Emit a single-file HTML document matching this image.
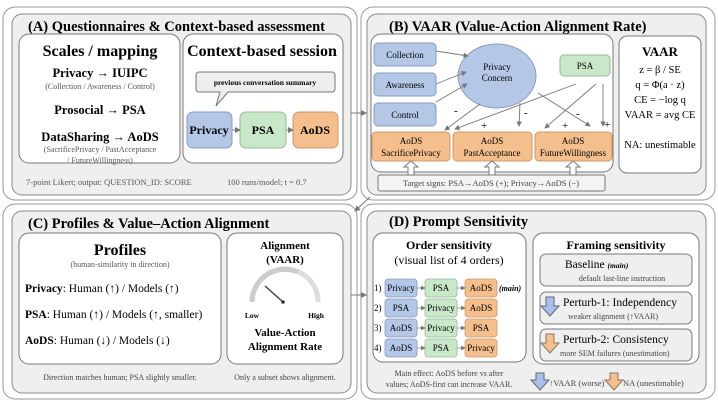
<!DOCTYPE html>
<html><head><meta charset="utf-8"><style>
html,body{margin:0;padding:0;background:#fff;}
svg{display:block;}
svg text, text, tspan{font-family:"Liberation Serif","Times New Roman","DejaVu Serif",serif;}
</style></head><body>
<svg width="718" height="404" viewBox="0 0 718 404" xmlns="http://www.w3.org/2000/svg" font-family="Liberation Serif, serif">
<defs>
<marker id="ah" markerWidth="6" markerHeight="6" refX="5" refY="3" orient="auto"><path d="M0,0 L6,3 L0,6 z" fill="#777"/></marker>
</defs>
<rect x="3" y="7" width="354" height="193" rx="12" fill="#fff" stroke="#999" stroke-width="1"/>
<rect x="361" y="7" width="354" height="193" rx="12" fill="#fff" stroke="#999" stroke-width="1"/>
<rect x="3" y="204" width="354" height="195" rx="12" fill="#fff" stroke="#999" stroke-width="1"/>
<rect x="361" y="204" width="354" height="195" rx="12" fill="#fff" stroke="#999" stroke-width="1"/>
<g fill="#efefef" stroke="#888" stroke-width="1">
<rect x="12" y="14" width="339" height="181" rx="10"/>
<rect x="367" y="14" width="339" height="181" rx="10"/>
<rect x="12" y="211" width="339" height="182" rx="10"/>
<rect x="367" y="211" width="339" height="182" rx="10"/>
</g>
<line x1="351" y1="113" x2="366" y2="113" stroke="#777" marker-end="url(#ah)"/>
<line x1="370" y1="197" x2="355" y2="211" stroke="#777" marker-end="url(#ah)"/>
<line x1="351" y1="295" x2="366" y2="295" stroke="#777" marker-end="url(#ah)"/>

<!-- A -->
<text x="28" y="31" font-size="14.5" font-weight="bold">(A) Questionnaires &amp; Context-based assessment</text>
<rect x="19" y="34" width="161" height="129" rx="10" fill="#fff" stroke="#777"/>
<rect x="183" y="34" width="160" height="129" rx="10" fill="#fff" stroke="#777"/>
<g text-anchor="middle">
<text x="100" y="56" font-size="16" font-weight="bold">Scales / mapping</text>
<text x="100" y="77" font-size="12.5" font-weight="bold">Privacy → IUIPC</text>
<text x="100" y="89" font-size="8" fill="#555">(Collection / Awareness / Control)</text>
<text x="100" y="114" font-size="12.5" font-weight="bold">Prosocial → PSA</text>
<text x="100" y="141" font-size="12.5" font-weight="bold">DataSharing → AoDS</text>
<text x="100" y="152" font-size="8" fill="#555">(SacrificePrivacy / PastAcceptance</text>
<text x="100" y="163" font-size="8" fill="#555">/ FutureWillingness)</text>
<text x="262" y="56" font-size="16" font-weight="bold">Context-based session</text>
</g>
<path d="M199,72 H332 a3,3 0 0 1 3,3 V89 a3,3 0 0 1 -3,3 H228 L216,106 L220,92 H199 a3,3 0 0 1 -3,-3 V75 a3,3 0 0 1 3,-3z" fill="#eee" stroke="#777"/>
<text x="265" y="85" font-size="7.5" font-weight="bold" text-anchor="middle">previous conversation summary</text>
<rect x="187" y="112" width="45" height="36" rx="6" fill="#b4c7e7" stroke="#8a9bbb"/>
<rect x="240" y="112" width="46" height="36" rx="6" fill="#c9e7c9" stroke="#98b898"/>
<rect x="293" y="112" width="45" height="36" rx="6" fill="#f4bf8c" stroke="#c99a6c"/>
<line x1="232" y1="130" x2="240" y2="130" stroke="#888" marker-end="url(#ah)"/>
<line x1="286" y1="130" x2="293" y2="130" stroke="#888" marker-end="url(#ah)"/>
<g text-anchor="middle" font-size="12" font-weight="bold">
<text x="209" y="134">Privacy</text><text x="263" y="134">PSA</text><text x="315" y="134">AoDS</text>
</g>
<text x="26" y="185" font-size="8.5" fill="#555">7-point Likert; output: QUESTION_ID: SCORE</text>
<text x="227" y="185" font-size="8.5" fill="#555">100 runs/model; t = 0.7</text>

<!-- B -->
<text x="389" y="31" font-size="14.5" font-weight="bold">(B) VAAR (Value-Action Alignment Rate)</text>
<rect x="371" y="34" width="242" height="138" rx="10" fill="#fff" stroke="#777"/>
<rect x="619" y="36" width="82" height="137" rx="8" fill="#fff" stroke="#777"/>
<g fill="#b4c7e7" stroke="#8a9bbb">
<rect x="374" y="43" width="62" height="23" rx="4"/>
<rect x="374" y="73" width="62" height="23" rx="4"/>
<rect x="374" y="103" width="62" height="23" rx="4"/>
<ellipse cx="497" cy="76" rx="39" ry="32"/>
</g>
<rect x="560" y="55" width="50" height="21" rx="4" fill="#c9e7c9" stroke="#98b898"/>
<g fill="#f4bf8c" stroke="#c99a6c">
<rect x="372" y="132" width="78" height="29" rx="4"/>
<rect x="453" y="132" width="79" height="29" rx="4"/>
<rect x="535" y="132" width="77" height="29" rx="4"/>
</g>
<g font-size="9" text-anchor="middle">
<text x="405" y="58">Collection</text><text x="405" y="88">Awareness</text><text x="405" y="118">Control</text>
<text x="497" y="70">Privacy</text><text x="497" y="81">Concern</text>
<text x="585" y="69">PSA</text>
<text x="411" y="144">AoDS</text><text x="411" y="156">SacrificePrivacy</text>
<text x="492" y="144">AoDS</text><text x="492" y="156">PastAcceptance</text>
<text x="573" y="144">AoDS</text><text x="573" y="156">FutureWillingness</text>
</g>
<g stroke="#777" stroke-width="0.9" marker-end="url(#ah)">
<line x1="436" y1="51" x2="468" y2="56"/>
<line x1="436" y1="84" x2="466" y2="72"/>
<line x1="436" y1="102" x2="467" y2="84"/>
<line x1="480" y1="104" x2="445" y2="130"/>
<line x1="520" y1="103" x2="519" y2="126"/>
<line x1="538" y1="93" x2="590" y2="126"/>
<line x1="576" y1="84" x2="455" y2="129"/>
<line x1="596" y1="84" x2="545" y2="128"/>
<line x1="603" y1="84" x2="603" y2="126"/>
</g>
<g font-size="11">
<text x="454" y="114">-</text><text x="524" y="116">-</text><text x="576" y="117">-</text>
<text x="481" y="129">+</text><text x="562" y="129">+</text><text x="604" y="128">+</text>
</g>
<g font-size="10.5" text-anchor="middle">
<text x="660" y="56" font-size="13" font-weight="bold">VAAR</text>
<text x="660" y="73">z = β / SE</text>
<text x="660" y="88">q = Φ(a · z)</text>
<text x="660" y="103">CE = −log q</text>
<text x="660" y="118">VAAR = avg CE</text>
<text x="660" y="148">NA: unestimable</text>
</g>
<g fill="#fff" stroke="#777">
<path d="M408,175 v-8 h-4 l7,-6 l7,6 h-4 v8z"/>
<path d="M489,175 v-8 h-4 l7,-6 l7,6 h-4 v8z"/>
<path d="M570,175 v-8 h-4 l7,-6 l7,6 h-4 v8z"/>
</g>
<rect x="378" y="175" width="227" height="16" rx="2" fill="#f4f4f4" stroke="#777"/>
<text x="491" y="186" font-size="8.5" text-anchor="middle" fill="#444">Target signs: PSA→AoDS (+); Privacy→AoDS (−)</text>

<!-- C -->
<text x="28" y="228" font-size="14.5" font-weight="bold">(C) Profiles &amp; Value–Action Alignment</text>
<rect x="19" y="233" width="202" height="131" rx="10" fill="#fff" stroke="#777"/>
<rect x="227" y="233" width="116" height="131" rx="10" fill="#fff" stroke="#777"/>
<text x="120" y="255" font-size="16" font-weight="bold" text-anchor="middle">Profiles</text>
<text x="120" y="267" font-size="8" fill="#555" text-anchor="middle">(human-similarity in direction)</text>
<g font-size="11.5">
<text x="25" y="292"><tspan font-weight="bold">Privacy</tspan>:  Human (↑) / Models (↑)</text>
<text x="25" y="318"><tspan font-weight="bold">PSA</tspan>: Human (↑) / Models (↑, smaller)</text>
<text x="25" y="344"><tspan font-weight="bold">AoDS</tspan>:     Human (↓) / Models (↓)</text>
</g>
<g text-anchor="middle" font-weight="bold">
<text x="285" y="249" font-size="11">Alignment</text>
<text x="285" y="263" font-size="11">(VAAR)</text>
<text x="285" y="336" font-size="11">Value-Action</text>
<text x="285" y="350" font-size="11">Alignment Rate</text>
</g>
<path d="M252,302 A33,33 0 0 1 318,302" fill="none" stroke="#ddd" stroke-width="5"/>
<path d="M252,302 A33,33 0 0 1 298,272" fill="none" stroke="#ccc" stroke-width="5"/>
<line x1="265" y1="286" x2="283" y2="302" stroke="#444" stroke-width="1.5"/>
<circle cx="283" cy="302" r="1.8" fill="#333"/>
<text x="252" y="318" font-size="7.5" font-weight="bold" text-anchor="middle">Low</text>
<text x="316" y="318" font-size="7.5" font-weight="bold" text-anchor="middle">High</text>
<text x="120" y="380" font-size="8" fill="#444" text-anchor="middle">Direction matches human; PSA slightly smaller.</text>
<text x="285" y="380" font-size="8" fill="#444" text-anchor="middle">Only a subset shows alignment.</text>

<!-- D -->
<text x="389" y="226" font-size="14.5" font-weight="bold">(D) Prompt Sensitivity</text>
<rect x="373" y="233" width="153" height="129" rx="10" fill="#fff" stroke="#777"/>
<rect x="533" y="233" width="166" height="131" rx="10" fill="#fff" stroke="#777"/>
<text x="449" y="249" font-size="12" font-weight="bold" text-anchor="middle">Order sensitivity</text>
<text x="449" y="264" font-size="12" text-anchor="middle">(visual list of 4 orders)</text>
<g font-size="9">
<text x="374" y="291">1)</text><text x="374" y="311">2)</text><text x="374" y="331">3)</text><text x="374" y="351">4)</text>
</g>
<g stroke-width="0.8">
<rect x="385" y="279" width="32" height="18" rx="3" fill="#b4c7e7" stroke="#8a9bbb"/>
<rect x="425" y="279" width="32" height="18" rx="3" fill="#c9e7c9" stroke="#98b898"/>
<rect x="465" y="279" width="32" height="18" rx="3" fill="#f4bf8c" stroke="#c99a6c"/>
<rect x="385" y="299" width="32" height="18" rx="3" fill="#b4c7e7" stroke="#8a9bbb"/>
<rect x="425" y="299" width="32" height="18" rx="3" fill="#c9e7c9" stroke="#98b898"/>
<rect x="465" y="299" width="32" height="18" rx="3" fill="#f4bf8c" stroke="#c99a6c"/>
<rect x="385" y="319" width="32" height="18" rx="3" fill="#b4c7e7" stroke="#8a9bbb"/>
<rect x="425" y="319" width="32" height="18" rx="3" fill="#c9e7c9" stroke="#98b898"/>
<rect x="465" y="319" width="32" height="18" rx="3" fill="#f4bf8c" stroke="#c99a6c"/>
<rect x="385" y="339" width="32" height="18" rx="3" fill="#b4c7e7" stroke="#8a9bbb"/>
<rect x="425" y="339" width="32" height="18" rx="3" fill="#c9e7c9" stroke="#98b898"/>
<rect x="465" y="339" width="32" height="18" rx="3" fill="#f4bf8c" stroke="#c99a6c"/>
</g>
<g stroke="#888" stroke-width="0.8" marker-end="url(#ah)">
<line x1="417" y1="288" x2="425" y2="288"/><line x1="457" y1="288" x2="465" y2="288"/>
<line x1="417" y1="308" x2="425" y2="308"/><line x1="457" y1="308" x2="465" y2="308"/>
<line x1="417" y1="328" x2="425" y2="328"/><line x1="457" y1="328" x2="465" y2="328"/>
<line x1="417" y1="348" x2="425" y2="348"/><line x1="457" y1="348" x2="465" y2="348"/>
</g>
<g font-size="9" text-anchor="middle">
<text x="401" y="291">Privacy</text><text x="441" y="291">PSA</text><text x="481" y="291">AoDS</text>
<text x="401" y="311">PSA</text><text x="441" y="311">Privacy</text><text x="481" y="311">AoDS</text>
<text x="401" y="331">AoDS</text><text x="441" y="331">Privacy</text><text x="481" y="331">PSA</text>
<text x="401" y="351">AoDS</text><text x="441" y="351">PSA</text><text x="481" y="351">Privacy</text>
</g>
<text x="499" y="291" font-size="8" font-weight="bold" font-style="italic">(main)</text>
<text x="616" y="249" font-size="12" font-weight="bold" text-anchor="middle">Framing sensitivity</text>
<rect x="540" y="254" width="152" height="32" rx="6" fill="#efefef" stroke="#777"/>
<rect x="540" y="292" width="152" height="32" rx="6" fill="#efefef" stroke="#777"/>
<rect x="540" y="329" width="152" height="32" rx="6" fill="#efefef" stroke="#777"/>
<text x="565" y="268" font-size="11.5">Baseline <tspan font-size="7.5" font-weight="bold" font-style="italic">(main)</tspan></text>
<text x="622" y="281" font-size="8" fill="#444" text-anchor="middle">default last-line instruction</text>
<text x="563" y="306" font-size="11.5">Perturb-1: Independency</text>
<text x="568" y="319" font-size="8" fill="#444">weaker alignment (↑VAAR)</text>
<text x="563" y="343" font-size="11.5">Perturb-2: Consistency</text>
<text x="560" y="356" font-size="8" fill="#444">more SEM failures (unestimation)</text>
<path d="M546,297 h8 v9 h5 l-9,10 l-9,-10 h5z" fill="#a9c0e8" stroke="#667"/>
<path d="M546,334 h8 v9 h5 l-9,10 l-9,-10 h5z" fill="#f4bf8c" stroke="#876"/>
<path d="M536,373 h8 v7 h5 l-9,10 l-9,-10 h5z" fill="#a9c0e8" stroke="#667"/>
<path d="M610,373 h8 v7 h5 l-9,10 l-9,-10 h5z" fill="#f4bf8c" stroke="#876"/>
<text x="549" y="386" font-size="8.5" fill="#444">↑VAAR (worse)</text>
<text x="623" y="386" font-size="8.5" fill="#444">NA (unestimable)</text>
<text x="449" y="376" font-size="8" fill="#444" text-anchor="middle">Main effect: AoDS before vs after</text>
<text x="449" y="387" font-size="8" fill="#444" text-anchor="middle">values; AoDS-first can increase VAAR.</text>
</svg>
</body></html>
